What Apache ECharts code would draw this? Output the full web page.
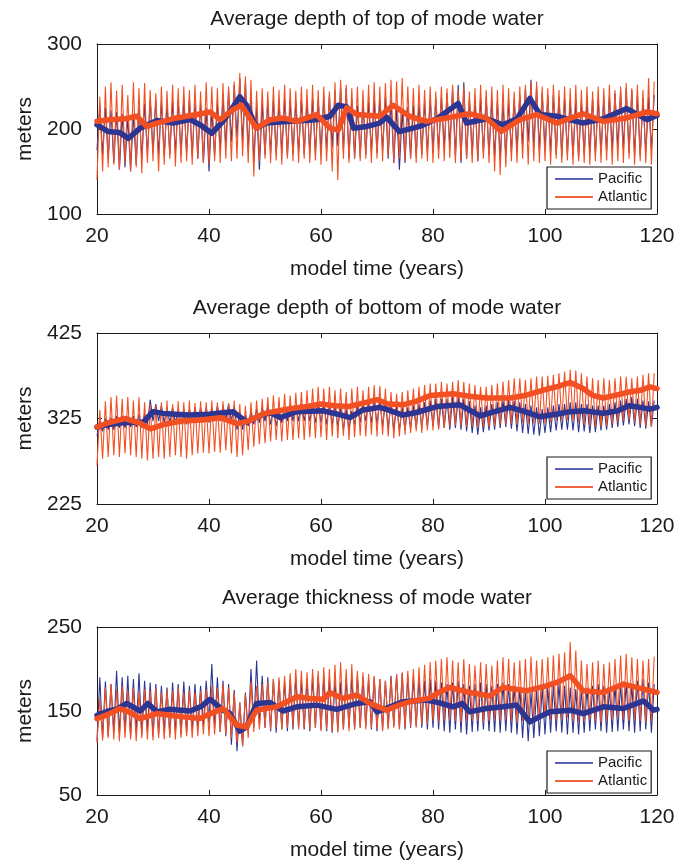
<!DOCTYPE html>
<html><head><meta charset="utf-8">
<script src="https://cdn.jsdelivr.net/npm/echarts@6/dist/echarts.min.js"></script>
<style>html,body{margin:0;padding:0;background:#fff}#c{width:688px;height:862px}</style>
</head><body><div id="c"></div>
<script>
// ---------------- data ----------------
const startYear = 20;               // first model year of the per-year arrays
const xMin = 20, xMax = 120, xStep = 20;
const seriesNames = ['Pacific', 'Atlantic'];
const panelTitles = ['Average depth of top of mode water', 'Average depth of bottom of mode water', 'Average thickness of mode water'];
const yTicksTop = [100, 200, 300];
const yTicksBot = [225, 325, 425];
const yTicksThk = [50, 150, 250];

// Panel 1: depth of top — per-year seasonal low / high of monthly values
const pacTopLo = [175,170,165,160,152,155,150,158,165,170, 172,170,168,170,172,170,172,168,165,160,
  150,168,175,180,185,190,185,175,162,152, 170,172,170,172,168,170,172,170,172,170,
  172,175,178,180,175,165,165,168,170,172, 172,175,165,160,152,160,165,168,170,172,
  175,175,178,180,168,160,165,170,162,172, 170,168,165,168,172,175,180,185,178,175,
  175,172,170,168,170,168,165,170,172,170, 172,174,176,178,176,172,170,168,172,175];
const pacTopHi = [228,225,222,220,218,215,218,225,230,235, 235,232,230,232,234,235,236,232,230,225,
  222,230,238,245,252,260,255,240,228,230, 232,234,232,235,233,232,235,234,236,235,
  238,240,245,250,248,235,228,230,232,234, 235,238,235,225,222,226,228,230,232,235,
  236,238,242,248,252,255,235,236,238,237, 235,232,230,232,235,240,248,258,250,242,
  240,240,238,236,234,232,232,234,236,235, 236,238,242,245,248,246,240,236,238,240];
const atlTopLo = [140,150,155,158,152,160,150,155,148,160, 162,150,158,165,156,160,162,158,165,160,
  158,162,160,165,162,165,168,160,144,162, 165,160,163,158,165,162,160,165,160,163,
  158,162,150,140,165,160,166,162,165,160, 165,162,168,160,165,162,166,160,165,162,
  160,165,162,166,160,163,165,160,162,165, 160,150,146,155,162,160,165,158,162,160,
  162,158,165,160,163,158,162,160,158,162, 160,163,158,162,160,165,158,162,160,158];
const atlTopHi = [238,250,255,245,252,240,255,248,254,246, 242,250,245,252,248,250,246,252,244,255,
  250,248,254,250,256,266,262,258,245,248, 244,250,246,252,248,245,250,247,252,246,
  250,244,255,258,252,248,250,246,252,255, 250,254,258,256,260,250,248,252,246,250,
  244,250,248,252,246,250,244,248,252,246, 250,246,252,248,244,250,252,255,256,250,
  248,252,246,250,248,252,246,250,244,250, 248,252,246,250,254,248,252,246,260,256];
// smoothed (annual mean) curves: [year, meters]
const pacTopMean = [[20,205],[22,197],[24,196],[25.6,189],[27.7,201],[30.7,210],[33.6,207],[36.6,211],[38.4,205],[40.5,195],
  [42.5,209],[44.3,226],[45.5,238],[46.7,228],[48.5,201],[50.3,207],[54.5,209],[59.2,211],[61.6,215],[63.1,228],
  [64.6,226],[65.8,201],[68.2,203],[70.5,207],[71.7,214],[74,197],[77.6,203],[80.7,212],[84.5,230],[86,207],
  [89.6,212],[92.5,205],[95,212],[97.3,236],[99.1,217],[102.1,215],[106.8,207],[110.4,212],[114.6,224],[118.2,211],[120,216]];
const atlTopMean = [[20,209],[22.3,211],[25,212],[27.1,215],[28.9,203],[30.7,207],[34.2,213],[37.8,217],[40.2,220],[42,211],
  [44.3,223],[45.8,228],[47.3,213],[48.5,201],[50.9,211],[53.2,213],[55.7,209],[59.2,217],[61.6,201],[63.1,199],
  [64.6,225],[66.4,217],[70.5,215],[72.9,228],[75.8,215],[78.8,209],[82.4,213],[86.5,218],[89.5,213],[92.2,197],
  [95.5,211],[98.5,217],[102.1,207],[106.8,218],[110.4,209],[114.6,213],[118.2,220],[120,218]];

// Panel 2: depth of bottom
const pacBotLo = [305,310,312,312,314,314,315,315,314,318, 322,322,320,320,320,318,318,320,320,320,
  320,322,322,324,322,312,312,316,318,320, 322,318,316,320,322,322,322,322,322,320,
  320,318,318,316,312,312,318,320,322,320, 318,316,314,312,311,312,313,314,314,315,
  316,314,314,312,314,312,310,308,306,309, 311,312,314,315,313,310,308,307,306,305,
  308,309,311,312,312,311,309,310,308,309, 311,312,314,315,317,318,316,314,313,315];
const pacBotHi = [322,325,326,328,328,327,328,330,330,347, 342,340,338,338,336,336,336,338,338,338,
  338,340,340,342,340,332,330,334,336,338, 340,336,334,338,340,340,342,342,342,342,
  342,342,340,338,336,334,340,342,346,346, 346,344,342,340,338,338,340,342,344,346,
  348,348,348,350,350,348,345,340,338,340, 342,344,346,348,346,344,342,340,338,336,
  338,340,342,342,344,344,342,342,340,340, 340,342,344,346,348,350,348,346,345,346];
const atlBotLo = [270,278,280,282,280,284,282,280,278,276, 278,280,278,280,282,280,278,282,284,285,
  284,286,285,288,284,280,282,288,292,295, 296,298,300,298,300,300,302,300,303,302,
  303,300,304,302,305,300,303,305,304,306, 304,306,304,302,304,306,308,310,308,311,
  311,312,314,316,317,316,315,316,314,315, 315,316,318,318,319,318,320,318,319,319,
  319,320,322,322,323,322,320,318,316,315, 315,316,318,320,322,323,320,318,316,315];
const atlBotHi = [335,345,350,352,348,350,346,350,344,342, 340,344,346,342,345,344,346,343,345,344,
  346,344,345,343,346,342,340,344,346,348, 350,352,350,354,352,355,356,358,360,362,
  360,362,358,360,356,360,362,358,362,364, 363,360,356,354,356,358,360,362,364,366,
  366,368,366,368,370,368,366,364,362,362, 364,366,368,370,372,372,370,372,374,374,
  375,376,378,380,382,381,378,374,372,370, 372,370,372,374,374,372,374,376,378,378];
const pacBotMean = [[20,315],[22,318],[24.7,320],[28.3,321],[30,333],[31.8,331],[34,330],[36.6,329],[40,330],[44.3,333],
  [46.7,321],[49,328],[50.9,332],[52.7,326],[55.7,333],[60.4,334],[63,330],[65.2,326],[67.5,335],[70.5,338],
  [72,335],[74.6,329],[77,332],[80.7,339],[84.8,341],[88.4,328],[91,333],[93.75,338],[96,334],[99.1,327],
  [102,330],[104.5,333],[107,334],[110.4,331],[113,334],[115,340],[117,338],[118.75,336],[120,338]];
const atlBotMean = [[20,315],[22,320],[25,325],[27.5,320],[29.5,313],[32,318],[35,322],[38,323],[42,326],[45,319],
  [47,322],[50,331],[52.5,334],[55,337],[57.5,339],[60,342],[62.5,340],[65,339],[67.5,343],[70,347],
  [72,342],[74.6,341],[77,345],[79.5,352],[83.6,354],[86.5,351],[89.6,349],[93.75,349],[96.5,352],[99.6,358],
  [102,362],[104.5,367],[106.8,360],[108.5,352],[110.4,349],[112.5,352],[115,356],[117,358],[118.75,362],[120,360]];

// Panel 3: thickness
const pacThkLo = [115,118,120,125,122,125,120,124,122,126, 120,122,124,122,124,122,124,126,128,132,
  135,130,125,120,110,102,108,125,130,132, 130,126,124,128,126,128,130,128,126,130,
  128,126,124,126,128,130,128,130,132,128, 126,128,130,132,130,128,130,132,130,128,
  130,128,126,124,128,124,122,125,126,128, 126,125,124,126,124,122,118,114,118,120,
  122,124,126,124,122,124,122,124,126,128, 126,124,125,126,128,126,124,126,128,124];
const pacThkHi = [190,185,182,198,190,192,188,195,186,184, 182,180,178,184,182,185,180,182,180,186,
  206,190,186,182,175,160,172,200,210,192, 190,188,186,185,188,190,186,188,190,192,
  190,188,186,184,188,190,192,190,188,190, 188,186,192,194,195,192,190,188,186,188,
  186,184,182,184,186,182,180,182,184,182, 180,182,184,182,180,178,176,172,175,178,
  178,180,182,180,178,176,175,178,180,182, 180,178,180,182,184,182,186,188,184,182];
const atlThkLo = [112,115,118,116,114,118,116,114,118,116, 115,118,116,118,116,118,120,118,120,122,
  120,122,125,122,118,112,108,118,125,128, 130,128,130,128,130,132,128,130,128,130,
  126,128,125,124,128,126,128,130,128,130, 128,126,128,130,128,130,132,130,134,135,
  138,136,138,140,138,136,138,140,138,136, 138,140,138,140,138,136,138,140,138,140,
  142,140,138,140,142,138,136,138,140,138, 136,138,140,142,140,138,140,138,136,138];
const atlThkHi = [165,178,182,176,180,175,178,172,176,174, 178,172,176,174,178,172,175,172,174,176,
  180,178,182,178,172,160,170,185,180,182, 185,188,190,192,195,200,198,196,200,198,
  202,200,205,208,200,206,198,196,194,192, 188,186,190,194,196,198,200,202,205,208,
  210,212,214,210,208,212,206,204,208,206, 204,210,214,212,208,210,212,215,210,212,
  214,216,218,220,232,222,210,206,208,210, 206,208,212,216,218,214,212,210,212,215];
const pacThkMean = [[20,145],[22,150],[23.5,152],[25.3,159],[27.7,150],[29.1,159],[30.7,149],[33,152],[36.6,150],[38.5,155],
  [40.2,164],[42.5,151],[43.75,147],[45.5,126],[46.7,131],[48.5,159],[50.9,160],[53.2,150],[55.7,155],[59.2,157],
  [62.8,152],[66.4,159],[68.75,161],[70,149],[72,154],[74.6,161],[78.8,163],[81,160],[83.6,155],[85.3,159],
  [86.5,149],[89.5,153],[92.5,155],[94.9,157],[97.3,137],[99,143],[100.9,149],[104.5,151],[106.8,147],[110.4,155],
  [114,153],[117.6,162],[119.4,151],[120,152]];
const atlThkMean = [[20,141],[22,146],[24.1,153],[26,148],[27.7,141],[30.7,147],[33,145],[35.4,143],[38.4,141],[40,146],
  [42.5,153],[45,133],[46.7,131],[48.5,151],[52.1,155],[55.7,167],[58,165],[60.4,164],[61.6,172],[63.9,165],
  [66.4,169],[68.75,159],[71.7,151],[73.5,156],[75.8,161],[79.3,165],[81,172],[83,178],[86.5,172],[90.1,168],
  [92.5,178],[96.7,174],[100.2,180],[102.5,185],[104.5,192],[106.8,174],[110.4,172],[114,182],[117.6,176],[120,172]];

// ---------------- chart ----------------
const FONT = '"Liberation Sans", Arial, Helvetica, sans-serif';
const BLUE = '#2c3592', ORANGE = '#f25022', AXIS = '#1a1a1a';

function seasonal(lo, hi) {          // monthly cycle: seasonal low then high in each year
  const out = [];
  for (let i = 0; i < lo.length; i++) {
    out.push([startYear + i, lo[i]]);
    out.push([startYear + i + 0.5, hi[i]]);
  }
  return out;
}

const panels = [
  { top: 44,  height: 170, titleTop: 9,   ticks: yTicksTop, pLo: pacTopLo, pHi: pacTopHi, aLo: atlTopLo, aHi: atlTopHi, pM: pacTopMean, aM: atlTopMean },
  { top: 333, height: 171, titleTop: 298, ticks: yTicksBot, pLo: pacBotLo, pHi: pacBotHi, aLo: atlBotLo, aHi: atlBotHi, pM: pacBotMean, aM: atlBotMean },
  { top: 627, height: 171, titleTop: 588, ticks: yTicksThk, pLo: pacThkLo, pHi: pacThkHi, aLo: atlThkLo, aHi: atlThkHi, pM: pacThkMean, aM: atlThkMean }
];

const gridL = 97, gridR = 31;
const option = { animation: false, title: [], grid: [], xAxis: [], yAxis: [], legend: [], series: [] };
const axisLine = { show: true, onZero: false, lineStyle: { color: AXIS, width: 1 } };
const tickStyle = { show: true, inside: true, length: 5, lineStyle: { color: AXIS, width: 1 } };

panels.forEach((p, i) => {
  option.title.push({ text: panelTitles[i], left: gridL + (688 - gridL - gridR) / 2, textAlign: 'center', top: p.titleTop, padding: 0,
    textStyle: { fontSize: 21, fontWeight: 'normal', color: AXIS, fontFamily: FONT } });
  option.grid.push({ left: gridL, right: gridR, top: p.top, height: p.height, containLabel: false });
  option.xAxis.push({ gridIndex: i, type: 'value', min: xMin, max: xMax, interval: xStep, position: 'bottom',
    name: 'model time (years)', nameLocation: 'middle', nameGap: 45,
    nameTextStyle: { fontSize: 21, color: AXIS, fontFamily: FONT },
    axisLine, axisTick: tickStyle, splitLine: { show: false },
    axisLabel: { fontSize: 21, color: AXIS, margin: 12, fontFamily: FONT } });
  option.xAxis.push({ gridIndex: i, type: 'value', min: xMin, max: xMax, interval: xStep, position: 'top',
    axisLine, axisTick: tickStyle, splitLine: { show: false }, axisLabel: { show: false } });
  const yMin = p.ticks[0], yMax = p.ticks[p.ticks.length - 1];
  const yBase = { gridIndex: i, type: 'value', min: yMin, max: yMax, interval: 25, splitLine: { show: false } };
  option.yAxis.push(Object.assign({}, yBase, { position: 'left', name: 'meters', nameLocation: 'middle', nameGap: 60,
    nameTextStyle: { fontSize: 21, color: AXIS, fontFamily: FONT },
    axisLine, axisTick: Object.assign({}, tickStyle, { customValues: p.ticks }),
    axisLabel: { fontSize: 21, color: AXIS, margin: 15, fontFamily: FONT, customValues: p.ticks } }));
  option.yAxis.push(Object.assign({}, yBase, { position: 'right',
    axisLine, axisTick: Object.assign({}, tickStyle, { customValues: p.ticks }),
    axisLabel: { show: false, customValues: p.ticks } }));
  option.legend.push({ data: [{ name: seriesNames[0], itemStyle: { color: '#5a62b0' } }, { name: seriesNames[1], itemStyle: { color: '#f26440' } }],
    orient: 'vertical', left: 547, top: p.top + p.height - 47, icon: 'rect', itemWidth: 38, itemHeight: 2, itemGap: 2,
    padding: [4, 4, 4, 8], borderColor: AXIS, borderWidth: 1.2, backgroundColor: '#fff', selectedMode: false,
    textStyle: { fontSize: 15, color: AXIS, lineHeight: 16, fontFamily: FONT } });
  const common = { type: 'line', xAxisIndex: 2 * i, yAxisIndex: 2 * i, symbol: 'none', silent: true, animation: false };
  option.series.push(Object.assign({}, common, { name: seriesNames[0], data: seasonal(p.pLo, p.pHi),
    itemStyle: { color: BLUE }, lineStyle: { color: BLUE, width: 1.1 } }));
  option.series.push(Object.assign({}, common, { name: seriesNames[1], data: seasonal(p.aLo, p.aHi),
    itemStyle: { color: ORANGE }, lineStyle: { color: ORANGE, width: 1.1 } }));
  option.series.push(Object.assign({}, common, { name: seriesNames[0] + ' mean', data: p.pM,
    itemStyle: { color: BLUE }, lineStyle: { color: BLUE, width: 5.5, cap: 'round', join: 'round' } }));
  option.series.push(Object.assign({}, common, { name: seriesNames[1] + ' mean', data: p.aM,
    itemStyle: { color: ORANGE }, lineStyle: { color: ORANGE, width: 5.5, cap: 'round', join: 'round' } }));
});

const chart = echarts.init(document.getElementById('c'), null, { renderer: 'canvas' });
chart.setOption(option);
</script></body></html>
